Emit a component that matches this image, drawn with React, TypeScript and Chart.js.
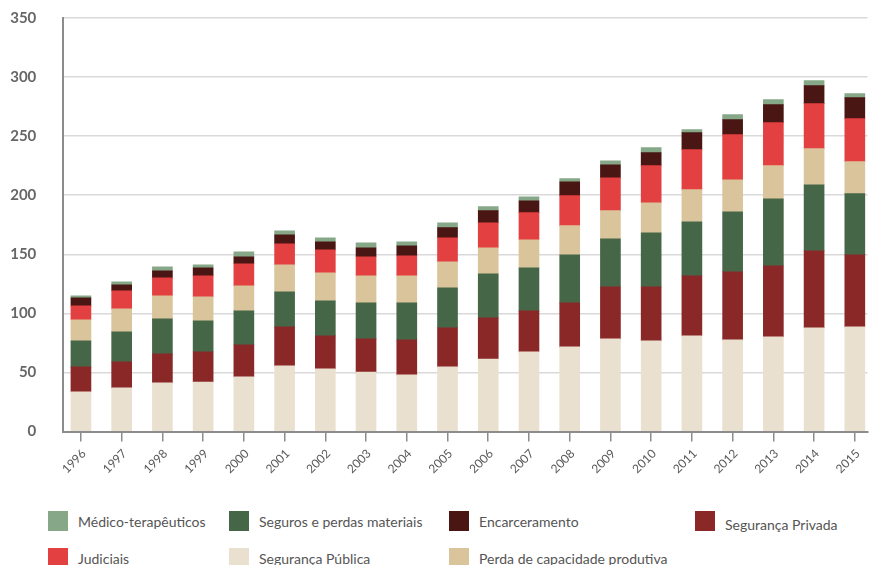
import React, { useEffect, useRef } from 'react';
import { Chart, registerables } from 'chart.js';

Chart.register(...registerables);

const years = [1996, 1997, 1998, 1999, 2000, 2001, 2002, 2003, 2004, 2005, 2006, 2007, 2008, 2009, 2010, 2011, 2012, 2013, 2014, 2015];

const segurancaPublica = [33.5, 36.9, 41.1, 41.9, 46.2, 55.5, 53.0, 50.4, 47.9, 54.7, 61.4, 67.4, 71.6, 78.4, 76.7, 80.9, 77.5, 80.1, 87.7, 88.6];
const segurancaPrivada = [21.2, 22.0, 24.6, 25.5, 27.1, 33.1, 27.9, 28.0, 29.6, 33.0, 34.8, 34.7, 37.3, 44.1, 45.8, 50.9, 57.7, 60.2, 65.2, 61.0];
const seguros = [22.0, 25.4, 29.6, 26.2, 28.8, 29.6, 29.7, 30.5, 31.4, 33.9, 37.3, 36.5, 40.7, 40.6, 45.7, 45.7, 50.8, 56.7, 55.9, 51.7];
const perdaCapacidade = [17.8, 19.5, 19.5, 20.4, 21.2, 22.9, 23.7, 22.9, 22.9, 22.0, 22.0, 23.7, 24.6, 23.8, 25.4, 27.2, 27.1, 28.0, 30.6, 27.1];
const judiciais = [11.9, 15.3, 15.3, 17.8, 18.7, 17.8, 19.5, 16.1, 16.9, 20.4, 21.2, 22.9, 25.4, 27.9, 31.4, 33.9, 38.2, 36.4, 38.1, 36.4];
const encarceramento = [6.7, 5.1, 5.9, 6.8, 5.9, 7.6, 6.8, 7.6, 8.5, 8.5, 10.2, 10.1, 11.8, 11.0, 11.0, 14.4, 12.7, 15.3, 15.3, 17.8];
const medico = [1.7, 2.5, 3.4, 2.5, 4.2, 3.4, 3.4, 4.2, 3.4, 4.2, 3.4, 3.4, 2.6, 3.4, 4.3, 2.5, 4.2, 4.2, 4.2, 3.4];

const seriesLabels = [
  'Segurança Pública',
  'Segurança Privada',
  'Seguros e perdas materiais',
  'Perda de capacidade produtiva',
  'Judiciais',
  'Encarceramento',
  'Médico-terapêuticos',
];
const seriesValues = [segurancaPublica, segurancaPrivada, seguros, perdaCapacidade, judiciais, encarceramento, medico];
const seriesColors = ['#eae0cf', '#8a2828', '#466648', '#dac49c', '#e34041', '#4a1613', '#86a888'];

const yMax = 350;
const yStep = 50;

// legend layout: [series index, column, row, text dy]
const legendItems: [number, number, number, number][] = [
  [6, 0, 0, 0],
  [2, 1, 0, 0],
  [5, 2, 0, 0],
  [1, 3, 0, 3],
  [4, 0, 1, 0],
  [0, 1, 1, 0],
  [3, 2, 1, 0],
];
const legendCols = [48, 229, 449, 695];
const legendRows = [511, 548];

export default function App() {
  const canvasRef = useRef<HTMLCanvasElement | null>(null);

  useEffect(() => {
    const canvas = canvasRef.current;
    if (!canvas) return;
    const chart = new Chart(canvas, {
      type: 'bar',
      data: {
        datasets: seriesValues.map((vals, si) => ({
          label: seriesLabels[si],
          data: vals.map((v, i) => ({ x: years[i], y: v })),
          backgroundColor: seriesColors[si],
          borderWidth: 0,
          barThickness: 20,
          grouped: false,
        })),
      },
      options: {
        responsive: false,
        animation: false,
        events: [],
        layout: { padding: { top: 18, right: 0, bottom: 0, left: 0 } },
        plugins: {
          legend: { display: false },
          tooltip: { enabled: false },
        },
        scales: {
          x: {
            type: 'linear',
            min: years[0] - 0.433,
            max: years[0] - 0.433 + 19.743,
            offset: false,
            grid: {
              offset: false,
              drawOnChartArea: false,
              drawTicks: true,
              tickLength: 10,
              color: '#8c8c8c',
              lineWidth: 1.5,
            },
            border: { display: true, color: '#8c8c8c', width: 2 },
            ticks: {
              stepSize: 1,
              includeBounds: false,
              autoSkip: false,
              minRotation: 45,
              maxRotation: 45,
              padding: 5,
              labelOffset: 3,
              color: '#595959',
              font: { family: 'Lato, sans-serif', size: 12 },
              callback: (v: any) => String(v),
            },
            afterFit: (s: any) => {
              s.height = 48.5;
            },
          },
          y: {
            stacked: true,
            min: 0,
            max: yMax,
            grid: {
              color: '#d9d9d9',
              lineWidth: 1.5,
              drawTicks: false,
            },
            border: { display: true, color: '#8c8c8c', width: 2 },
            ticks: {
              stepSize: yStep,
              padding: 27,
              color: '#666666',
              font: { family: 'Lato, sans-serif', size: 15, weight: 'bold' },
            },
            afterFit: (s: any) => {
              s.width = 63.3;
              s.paddingTop = 0;
              s.paddingBottom = 0;
            },
          },
        },
      },
    } as any);
    return () => chart.destroy();
  }, []);

  return (
    <div
      style={{
        position: 'absolute',
        left: 0,
        top: 0,
        width: 870,
        height: 565,
        overflow: 'hidden',
        background: '#ffffff',
        fontFamily: 'Lato, sans-serif',
      }}
    >
      <canvas ref={canvasRef} width={870} height={480} style={{ position: 'absolute', left: 0, top: 0, width: 870, height: 480 }} />
      {legendItems.map(([si, col, row, dy]) => (
        <div
          key={si}
          style={{
            position: 'absolute',
            left: legendCols[col],
            top: legendRows[row],
            height: 20,
            display: 'flex',
            alignItems: 'center',
            whiteSpace: 'nowrap',
          }}
        >
          <div style={{ width: 20, height: 20, background: seriesColors[si], flex: '0 0 auto' }} />
          <span
            style={{
              marginLeft: 10,
              fontSize: 14,
              color: '#555555',
              position: 'relative',
              top: dy,
            }}
          >
            {seriesLabels[si]}
          </span>
        </div>
      ))}
    </div>
  );
}
